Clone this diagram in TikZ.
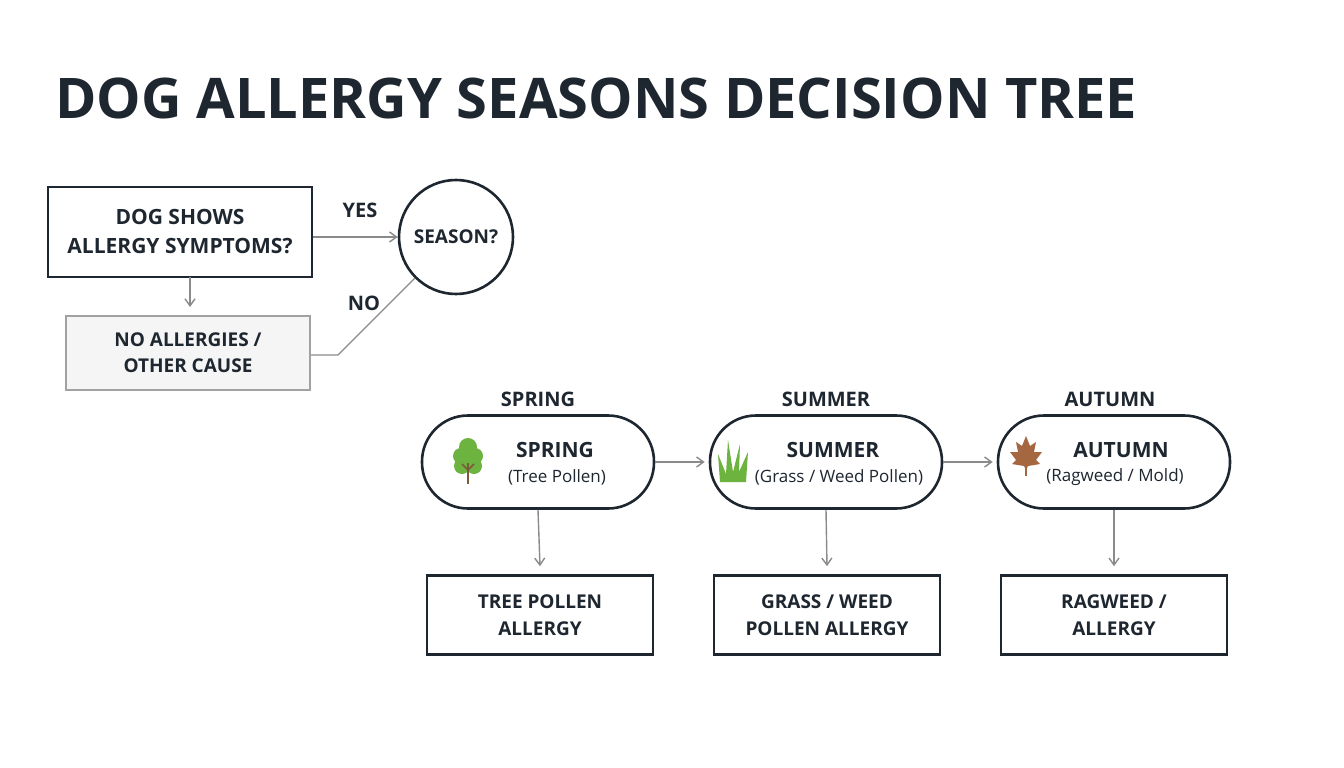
\documentclass[tikz,border=0pt]{standalone}
\usepackage{fontspec}
\setmainfont{Open Sans}
\usetikzlibrary{arrows.meta,shapes.geometric}
\definecolor{ink}{HTML}{1E2630}
\definecolor{conn}{HTML}{8A8A8A}
\definecolor{leafg}{HTML}{6DB33F}
\definecolor{trunk}{HTML}{7A5A3A}
\definecolor{maple}{HTML}{A5673F}
\tikzset{
  box/.style={draw=ink,line width=2.6pt,fill=white,align=center,font=\fontsize{21}{29}\selectfont\bfseries,text=ink},
  graybox/.style={draw=conn!80,line width=2.4pt,fill=gray!8,align=center,font=\fontsize{19}{26}\selectfont\bfseries,text=ink},
  pill/.style={draw=ink,line width=2.6pt,fill=white,rounded corners=46pt,minimum width=232pt,minimum height=93pt},
  bbox/.style={box,minimum width=226pt,minimum height=79pt,font=\fontsize{19}{27}\selectfont\bfseries},
  head/.style={font=\fontsize{21}{26}\selectfont\bfseries,text=ink},
  sub/.style={font=\fontsize{17}{22}\selectfont,text=ink},
  conn/.style={draw=conn,line width=1.4pt},
  arr/.style={conn,-{Straight Barb[length=7pt,width=10pt]}},
  lab/.style={font=\fontsize{20}{24}\selectfont\bfseries,text=ink},
}
\begin{document}
\begin{tikzpicture}[x=1pt,y=-1pt]
\useasboundingbox (0,0) rectangle (1344,768);
\node[anchor=west,font=\fontsize{56}{66}\selectfont\bfseries,text=ink] (title) at (52,98) {DOG ALLERGY SEASONS DECISION TREE};

\node[box,minimum width=264pt,minimum height=90pt] (q) at (180,232) {DOG SHOWS\\ALLERGY SYMPTOMS?};
\node[graybox,minimum width=244pt,minimum height=74pt] (no) at (188,353) {NO ALLERGIES /\\OTHER CAUSE};
\node[draw=ink,line width=2.6pt,circle,minimum size=114pt,inner sep=0pt,font=\fontsize{19}{24}\selectfont\bfseries,text=ink] (s) at (456,237) {SEASON?};
\draw[arr] (q.east |- s.west) -- (s.west);
\node[lab] (yes) at (360,210) {YES};
\draw[arr] (190,277) -- (190,307);
\coordinate (bend) at (338,355);
\draw[conn] (no.east |- bend) -- (bend) -- (s.south west);
\node[lab] (nolab) at (364,303) {NO};

% spring
\node[lab] (sph) at (538,399) {SPRING};
\node[pill] (sp) at (538,462) {};
\node[head] (spt) at (555,450) {SPRING};
\node[sub] (sps) at (557,477) {(Tree Pollen)};
\node[bbox] (spb) at (540,615) {TREE POLLEN\\ALLERGY};
% summer
\node[lab] (suh) at (826,399) {SUMMER};
\node[pill] (su) at (826,462) {};
\node[head] (sut) at (833,450) {SUMMER};
\node[sub] (sus) at (839,477) {(Grass / Weed Pollen)};
\node[bbox] (sub) at (827,615) {GRASS / WEED\\POLLEN ALLERGY};
% autumn
\node[lab] (auh) at (1110,399) {AUTUMN};
\node[pill] (au) at (1114,462) {};
\node[head] (aut) at (1121,450) {AUTUMN};
\node[sub] (aus) at (1115,477) {(Ragweed / Mold)};
\node[bbox] (aub) at (1114,615) {RAGWEED /\\ALLERGY};

\foreach \n in {sp,su,au}{\draw[arr] (\n.south) -- ([yshift=8pt]\n b.north);}
\draw[arr] (sp.east) -- ([xshift=-4pt]su.west);
\draw[arr] (su.east) -- ([xshift=-4pt]au.west);

% tree icon
\fill[leafg] (468,447) circle (9) (461,456) circle (8) (475,456) circle (8) (462,466) circle (8) (474,466) circle (8) (468,462) circle (8);
\draw[trunk,line width=2.5pt] (468,484) -- (468,463);
\draw[trunk,line width=1.5pt] (468,470) -- (462,464) (468,470) -- (474,464);
% grass icon
\fill[leafg] (720,482) -- (718,454) -- (726,474) -- (728,440) -- (733,472) -- (740,444) -- (739,472) -- (748,452) -- (746,482) -- cycle;
% maple leaf icon
\fill[maple] (1026,436) -- (1030,446) -- (1036,442) -- (1034,452) -- (1042,452) -- (1036,460) -- (1040,464) -- (1028,466) -- (1026,470) -- (1024,466) -- (1012,464) -- (1016,460) -- (1010,452) -- (1018,452) -- (1016,442) -- (1022,446) -- cycle;
\draw[maple,line width=1.5pt] (1026,462) -- (1026,476);
\end{tikzpicture}
\end{document}
